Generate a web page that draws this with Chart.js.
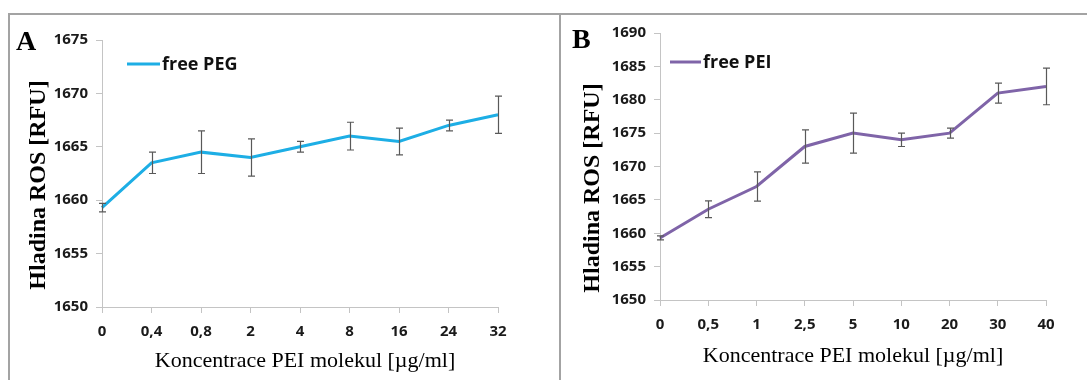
<!DOCTYPE html>
<html>
<head>
<meta charset="utf-8">
<script src="https://cdn.jsdelivr.net/npm/chart.js@4"></script>
<style>
  html, body { margin: 0; padding: 0; background: #fff; }
  body { width: 1087px; height: 380px; position: relative; overflow: hidden; }
  canvas { position: absolute; }
  .line { position: absolute; background: #a3a3a3; }
  .txt { position: absolute; white-space: nowrap; color: #000; font-family: "Liberation Serif", "Times New Roman", serif; }
  .ytitle { font-weight: bold; font-size: 24px; transform: translate(-50%, -50%) rotate(-90deg); }
  .xtitle { font-size: 22px; transform: translate(-50%, -50%); }
  .letter { font-weight: bold; font-size: 28px; line-height: 28px; }
</style>
</head>
<body>
<div class="line" style="left:8px; top:13px; width:1079px; height:2px;"></div>
<div class="line" style="left:8px; top:13px; width:2px; height:367px;"></div>
<div class="line" style="left:559px; top:13px; width:2px; height:367px;"></div>

<canvas id="cA" width="548" height="365" style="left:10px; top:15px;"></canvas>
<canvas id="cB" width="526" height="365" style="left:561px; top:15px;"></canvas>

<div class="txt letter" style="left:16px; top:27px;">A</div>
<div class="txt letter" style="left:572px; top:25px;">B</div>
<div class="txt ytitle" style="left:37px; top:185px;">Hladina ROS [RFU]</div>
<div class="txt ytitle" style="left:591px; top:188px;">Hladina ROS [RFU]</div>
<div class="txt xtitle" style="left:305px; top:360px;">Koncentrace PEI molekul [µg/ml]</div>
<div class="txt xtitle" style="left:853px; top:355px;">Koncentrace PEI molekul [µg/ml]</div>

<script>
// ---- data ----
const catsA = ['0', '0,4', '0,8', '2', '4', '8', '16', '24', '32'];
const valsA = [1659.3, 1663.5, 1664.5, 1664, 1665, 1666, 1665.5, 1667, 1668];
const errA  = [0.4, 1, 2, 1.75, 0.5, 1.3, 1.25, 0.5, 1.75];
const labelA = 'free PEG';

const catsB = ['0', '0,5', '1', '2,5', '5', '10', '20', '30', '40'];
const valsB = [1659.3, 1663.6, 1667, 1673, 1675, 1674, 1675, 1681, 1682];
const errB  = [0.3, 1.25, 2.2, 2.5, 3, 1, 0.75, 1.5, 2.75];
const labelB = 'free PEI';

const yTicksA = [1650, 1655, 1660, 1665, 1670, 1675];
const yTicksB = [1650, 1655, 1660, 1665, 1670, 1675, 1680, 1685, 1690];

const tickFont = { family: '"Open Sans", sans-serif', weight: 'bold', size: 15 };
const axisColor = '#c4c4c4';

const errorBarPlugin = {
  id: 'errorBars',
  afterDatasetsDraw(chart, args, opts) {
    const { ctx, scales } = chart;
    const xs = scales.x, ys = scales.y;
    const vals = chart.data.datasets[0].data;
    ctx.save();
    ctx.strokeStyle = '#595959';
    ctx.lineWidth = 1.2;
    vals.forEach((v, i) => {
      const e = opts.errors[i];
      const x = Math.round(xs.getPixelForValue(i)) + 0.5;
      const yt = ys.getPixelForValue(v + e);
      const yb = ys.getPixelForValue(v - e);
      ctx.beginPath();
      ctx.moveTo(x, yt); ctx.lineTo(x, yb);
      ctx.moveTo(x - 3.5, yt); ctx.lineTo(x + 3.5, yt);
      ctx.moveTo(x - 3.5, yb); ctx.lineTo(x + 3.5, yb);
      ctx.stroke();
    });
    ctx.restore();
  }
};

const legendPlugin = {
  id: 'innerLegend',
  afterDraw(chart, args, opts) {
    const { ctx } = chart;
    const ds = chart.data.datasets[0];
    ctx.save();
    ctx.strokeStyle = ds.borderColor;
    ctx.lineWidth = 3;
    ctx.beginPath();
    ctx.moveTo(opts.x, opts.y);
    ctx.lineTo(opts.x + opts.len, opts.y);
    ctx.stroke();
    ctx.fillStyle = '#111';
    ctx.font = 'bold 18px "Open Sans", sans-serif';
    ctx.textBaseline = 'middle';
    ctx.fillText(ds.label, opts.x + opts.len + 2, opts.y + 1);
    ctx.restore();
  }
};

function makeChart(id, cats, vals, errs, label, color, yTicks, yWidth, xHeight, padTop, padRight, legendPos) {
  return new Chart(document.getElementById(id), {
    type: 'line',
    data: {
      labels: cats,
      datasets: [{
        label: label,
        data: vals,
        borderColor: color,
        borderWidth: 3,
        pointRadius: 0,
        tension: 0,
        fill: false
      }]
    },
    options: {
      responsive: false,
      animation: false,
      devicePixelRatio: 1,
      layout: { padding: { top: padTop, right: padRight, left: 0, bottom: 0 } },
      plugins: {
        legend: { display: false },
        tooltip: { enabled: false },
        errorBars: { errors: errs },
        innerLegend: legendPos
      },
      scales: {
        x: {
          type: 'category',
          offset: false,
          grid: { display: true, drawOnChartArea: false, drawTicks: true, tickLength: 6, color: axisColor, lineWidth: 1 },
          border: { display: true, color: axisColor, width: 1 },
          ticks: { color: '#1a1a1a', font: tickFont, padding: 10, maxRotation: 0, autoSkip: false },
          afterFit(s) { s.height = xHeight; }
        },
        y: {
          min: yTicks[0],
          max: yTicks[yTicks.length - 1],
          afterBuildTicks(s) { s.ticks = yTicks.map(v => ({ value: v })); },
          grid: { display: true, drawOnChartArea: false, drawTicks: true, tickLength: 6, color: axisColor, lineWidth: 1 },
          border: { display: true, color: axisColor, width: 1 },
          ticks: { color: '#1a1a1a', font: tickFont, padding: 8, callback: v => String(v) },
          afterFit(s) { s.width = yWidth; }
        }
      }
    },
    plugins: [errorBarPlugin, legendPlugin]
  });
}

makeChart('cA', catsA, valsA, errA, labelA, '#1daee5', yTicksA, 92, 73, 25, 60, { x: 117, y: 49, len: 33 });
makeChart('cB', catsB, valsB, errB, labelB, '#7f64a8', yTicksB, 99, 80, 18, 41, { x: 109, y: 47, len: 31 });
</script>
</body>
</html>
